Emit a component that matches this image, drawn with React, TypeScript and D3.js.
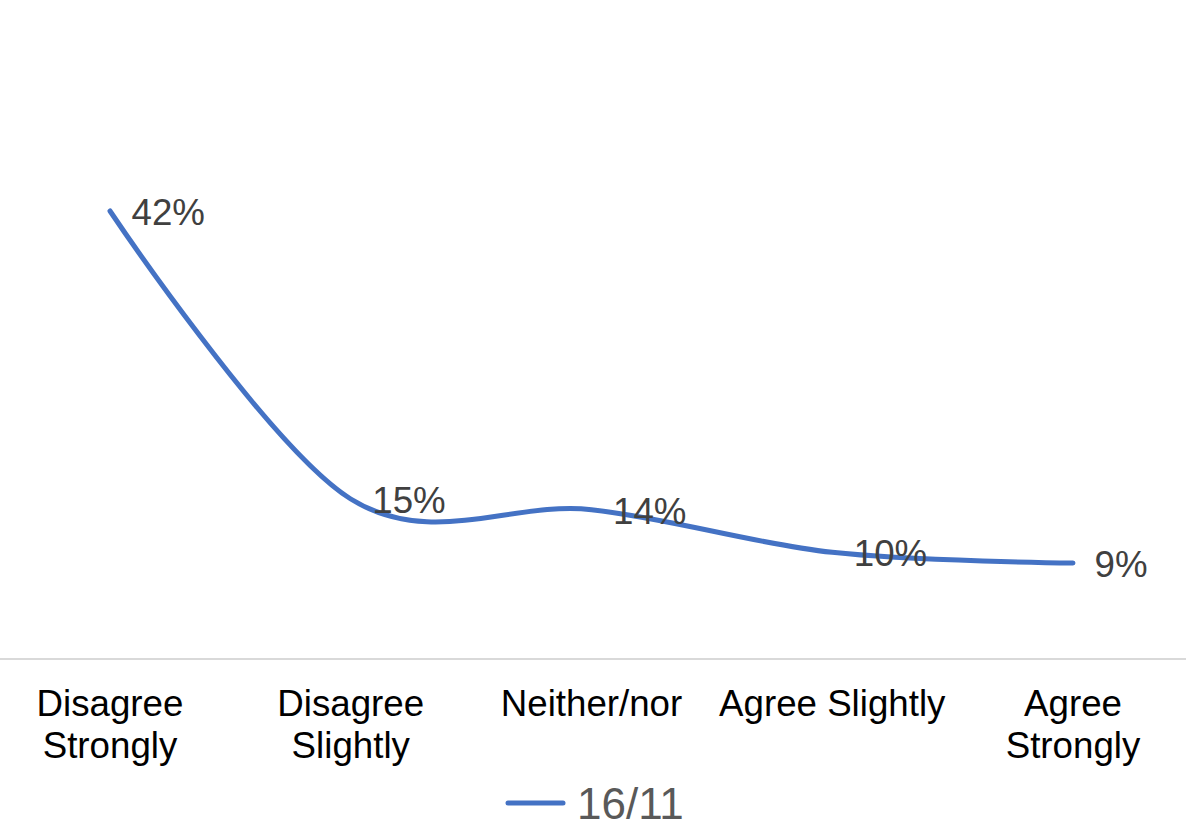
import React from "react";
import * as d3 from "d3";

const categories = ["Disagree Strongly", "Disagree Slightly", "Neither/nor", "Agree Slightly", "Agree Strongly"];
const categoryLines = [["Disagree", "Strongly"], ["Disagree", "Slightly"], ["Neither/nor"], ["Agree Slightly"], ["Agree", "Strongly"]];
const seriesName = "16/11";
const values = [42, 15, 14, 10, 9];

const W = 1186;
const H = 822;
const FONT = "'Liberation Sans', Arial, sans-serif";
const FS = 36.7;

export default function App() {
  const x = d3.scalePoint<string>().domain(categories).range([110, 1073]);
  const y = d3.scaleLinear().domain([0, 45]).range([659, 179]);
  const line = d3
    .line<number>()
    .x((_, i) => x(categories[i]) as number)
    .y((d) => y(d))
    .curve(d3.curveCatmullRom.alpha(0));
  const color = "#4472C4";
  return (
    <svg width={W} height={H} style={{ position: "absolute", left: 0, top: 0, background: "#fff" }}>
      <rect x={0} y={0} width={W} height={H} fill="#fff" />
      <line x1={0} x2={W} y1={y(0)} y2={y(0)} stroke="#d9d9d9" strokeWidth={2} />
      <path d={line(values) || ""} fill="none" stroke={color} strokeWidth={5} strokeLinecap="round" strokeLinejoin="round" />
      {values.map((v, i) => (
        <text key={i} x={(x(categories[i]) as number) + 21.5} y={y(v) + 14} fontFamily={FONT} fontSize={FS} fill="#404040">
          {v + "%"}
        </text>
      ))}
      {categories.map((c, i) => (
        <text key={c} x={x(c) as number} y={716} textAnchor="middle" fontFamily={FONT} fontSize={FS} fill="#000">
          {categoryLines[i].map((l, j) => (
            <tspan key={j} x={x(c) as number} dy={j === 0 ? 0 : 42}>
              {l}
            </tspan>
          ))}
        </text>
      ))}
      <line x1={508} x2={563} y1={803} y2={803} stroke={color} strokeWidth={5} strokeLinecap="round" />
      <text x={577} y={819} fontFamily={FONT} fontSize={44} fill="#595959">
        {seriesName}
      </text>
    </svg>
  );
}
